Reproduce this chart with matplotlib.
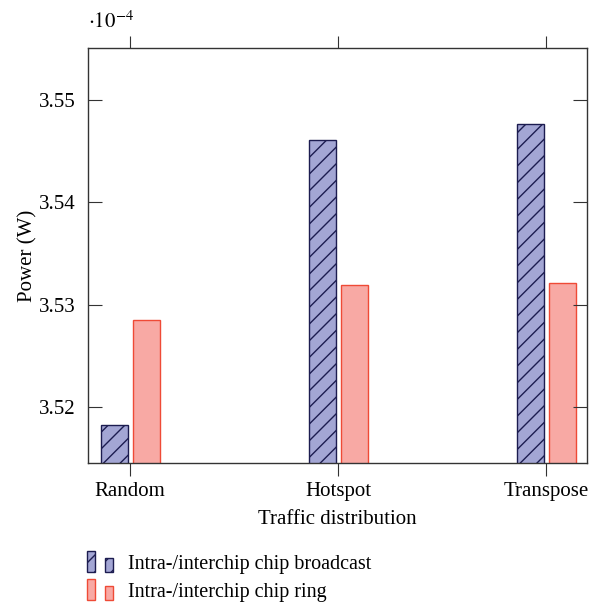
import numpy as np
import matplotlib.pyplot as plt
from matplotlib.patches import Rectangle
from matplotlib.legend_handler import HandlerBase

plt.rcParams['font.family'] = ['Liberation Serif', 'DejaVu Serif']
plt.rcParams['hatch.color'] = '#1c1c50'
plt.rcParams['hatch.linewidth'] = 1.0

categories = ['Random', 'Hotspot', 'Transpose']
broadcast = [3.5183, 3.5461, 3.5477]  # x 1e-4 W
ring = [3.5285, 3.5319, 3.5321]
series_names = ['Intra-/interchip chip broadcast', 'Intra-/interchip chip ring']

bc_face, bc_edge = '#a3a6d4', '#1c1c50'
rg_face, rg_edge = '#f8a9a4', '#ef4a36'
fs = 15


class TwoBarHandler(HandlerBase):
    # pgfplots style legend: two little bars of different height
    def create_artists(self, legend, orig, xdescent, ydescent, width, height, fontsize, trans):
        w = width * 0.3
        r1 = Rectangle((-xdescent, -ydescent - 2), w, height * 1.55)
        r2 = Rectangle((-xdescent + width * 0.67, -ydescent - 2), w, height)
        out = []
        for r in (r1, r2):
            r.set_facecolor(orig.get_facecolor())
            r.set_edgecolor(orig.get_edgecolor())
            r.set_hatch(orig.get_hatch())
            r.set_linewidth(1.0)
            r.set_transform(trans)
            out.append(r)
        return out


fig = plt.figure(figsize=(6, 6.05), dpi=100)
ax = fig.add_axes([0.1467, 0.2347, 0.8316, 0.686])

x = np.arange(len(categories))
w = 0.13
b1 = ax.bar(x - 0.075, broadcast, w, color=bc_face, edgecolor=bc_edge,
            hatch='//', linewidth=1.0, label=series_names[0])
b2 = ax.bar(x + 0.077, ring, w, color=rg_face, edgecolor=rg_edge,
            linewidth=1.0, label=series_names[1])

ax.set_xlim(-0.202, 2.197)
ax.set_ylim(3.51456, 3.55508)
ax.set_yticks([3.52, 3.53, 3.54, 3.55])
ax.set_yticklabels(['3.52', '3.53', '3.54', '3.55'])
ax.set_xticks(x)
ax.set_xticklabels(categories)

for s in ax.spines.values():
    s.set_color('#333333')
    s.set_linewidth(1.0)
ax.tick_params(axis='y', direction='in', left=True, right=True, length=10,
               color='#333333', labelsize=fs, pad=9)
ax.tick_params(axis='x', direction='out', top=True, bottom=True, length=9,
               color='#333333', labelsize=fs, pad=5)

ax.set_xlabel('Traffic distribution', fontsize=fs, labelpad=6)
ax.set_ylabel('Power (W)', fontsize=fs, labelpad=1)
ax.text(0.0, 1.035, r'$\cdot 10^{-4}$', transform=ax.transAxes, fontsize=fs,
        ha='left', va='bottom', math_fontfamily='stix')

leg = fig.legend(handles=[b1.patches[0], b2.patches[0]], labels=series_names,
                 handler_map={b1.patches[0]: TwoBarHandler(), b2.patches[0]: TwoBarHandler()},
                 loc='upper left', frameon=False,
                 fontsize=14.5, handlelength=1.35, handleheight=0.64, handletextpad=0.7,
                 labelspacing=0.45, borderpad=0, borderaxespad=0)
leg.set_bbox_to_anchor((0.145, 0.082), transform=fig.transFigure)

fig.savefig('out.png', dpi=100)
